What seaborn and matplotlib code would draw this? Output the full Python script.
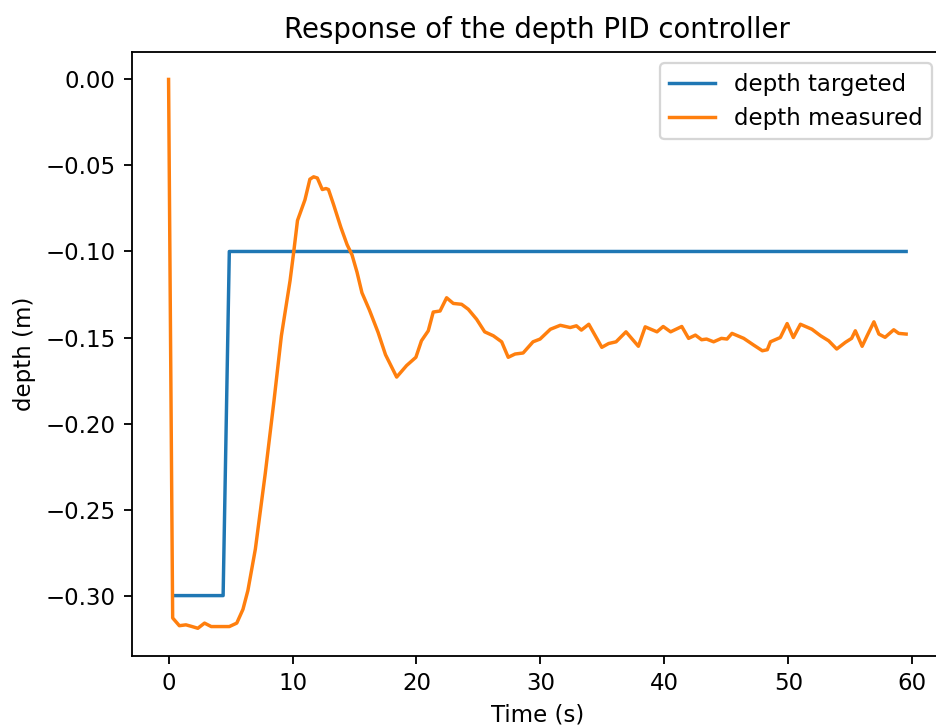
import pandas as pd
import matplotlib
matplotlib.use("Agg")
import matplotlib.pyplot as plt
import seaborn as sns

# consigne de profondeur (m)
t_target = [0.45, 4.4, 4.9, 59.5]
depth_target = [-0.30, -0.30, -0.10, -0.10]

t_measured = [0.0, 0.33, 0.87, 1.4, 1.9, 2.36, 2.9, 3.44, 4.0, 4.5, 4.9, 5.5, 6.0,
              6.4, 7.0, 7.8, 8.5, 9.1, 9.8, 10.1, 10.4, 10.6, 11.0, 11.4, 11.7,
              12.0, 12.4, 12.7, 12.9, 13.3, 13.9, 14.4, 14.8, 15.2, 15.6, 16.2,
              16.9, 17.5, 18.4, 19.2, 19.95, 20.4, 20.95, 21.35, 21.9, 22.43,
              22.97, 23.64, 24.18, 24.85, 25.5, 26.2, 26.87, 27.4, 27.95, 28.6,
              29.4, 29.97, 30.8, 31.6, 32.4, 32.9, 33.3, 33.9, 34.95, 35.5, 36.1,
              36.9, 37.9, 38.45, 39.4, 39.9, 40.5, 41.4, 41.95, 42.5, 43.0, 43.4,
              43.97, 44.6, 45.05, 45.45, 46.4, 47.2, 47.9, 48.3, 48.55, 49.35,
              49.9, 50.4, 50.97, 51.9, 52.6, 53.25, 53.9, 54.6, 55.1, 55.4, 55.95,
              56.35, 56.9, 57.3, 57.8, 58.5, 58.9, 59.5]
depth_measured = [0.0, -0.313, -0.3175, -0.317, -0.318, -0.319, -0.316, -0.318,
                  -0.318, -0.318, -0.318, -0.316, -0.308, -0.297, -0.273, -0.229,
                  -0.187, -0.149, -0.117, -0.100, -0.082, -0.078, -0.070, -0.058,
                  -0.0566, -0.0573, -0.064, -0.0634, -0.064, -0.0725, -0.086,
                  -0.096, -0.102, -0.112, -0.124, -0.134, -0.147, -0.160, -0.173,
                  -0.1663, -0.1615, -0.1519, -0.1461, -0.1352, -0.1346, -0.1269,
                  -0.1302, -0.1307, -0.1336, -0.1394, -0.1467, -0.149, -0.1525,
                  -0.1615, -0.1596, -0.159, -0.1525, -0.1509, -0.1452, -0.1429,
                  -0.1442, -0.1432, -0.1457, -0.1423, -0.1557, -0.1535, -0.1525,
                  -0.1467, -0.1551, -0.1438, -0.1467, -0.1436, -0.1467, -0.1436,
                  -0.1505, -0.1486, -0.1513, -0.1509, -0.1525, -0.1505, -0.1509,
                  -0.1476, -0.1505, -0.1544, -0.1577, -0.1571, -0.1525, -0.150,
                  -0.1419, -0.150, -0.1423, -0.1452, -0.149, -0.1519, -0.1567,
                  -0.1528, -0.1505, -0.1461, -0.1551, -0.149, -0.1409, -0.148,
                  -0.1499, -0.1455, -0.1476, -0.148]

df_target = pd.DataFrame({"t": t_target, "depth": depth_target})
df_measured = pd.DataFrame({"t": t_measured, "depth": depth_measured})

# figure au style matplotlib classique
fig = plt.figure(figsize=(936 / 165, 726 / 165), dpi=165)
ax = fig.add_axes([0.1407, 0.0968, 0.8668, 0.8316])

sns.lineplot(data=df_target, x="t", y="depth", color="#1f77b4",
             label="depth targeted", estimator=None, sort=False, ax=ax)
sns.lineplot(data=df_measured, x="t", y="depth", color="#ff7f0e",
             label="depth measured", estimator=None, sort=False, ax=ax)

ax.set_title("Response of the depth PID controller")
ax.set_xlabel("Time (s)")
ax.set_ylabel("depth (m)")
ax.legend(loc="upper right")

fig.savefig("out.png", dpi=165)
